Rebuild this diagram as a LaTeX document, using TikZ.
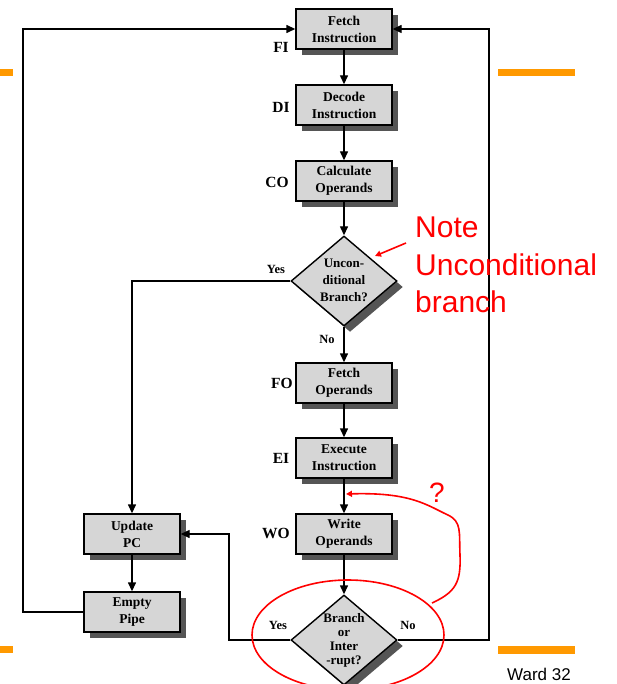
\documentclass[tikz,border=0pt]{standalone}
\usepackage{fontspec}
\setmainfont{Liberation Serif}
\newfontfamily\notefont{Liberation Sans}
\usetikzlibrary{arrows.meta,shapes.geometric,shadows}

\definecolor{boxgray}{HTML}{D6D6D6}
\definecolor{shadegray}{HTML}{555555}
\definecolor{barorange}{HTML}{FF9900}
\definecolor{notered}{HTML}{FF0000}

\tikzset{
  stepbox/.style={draw=black, line width=1.4pt, fill=boxgray,
    minimum width=96pt, minimum height=40pt, inner sep=0pt, align=center,
    font=\bfseries\fontsize{13.5}{17}\selectfont,
    general shadow={fill=shadegray, shadow xshift=6pt, shadow yshift=-6pt}},
  decision/.style={diamond, draw=black, line width=1.4pt, fill=boxgray,
    minimum width=106pt, minimum height=90pt, inner sep=0pt,
    general shadow={fill=shadegray, shadow xshift=6pt, shadow yshift=-6pt}},
  dtext/.style={align=center, inner sep=0pt, font=\bfseries\fontsize{13}{17}\selectfont},
  stagelabel/.style={font=\bfseries\fontsize{15.5}{15.5}\selectfont, inner sep=0pt},
  answer/.style={font=\bfseries\fontsize{12.5}{12.5}\selectfont, inner sep=0pt},
  flow/.style={line width=1.4pt, -{Triangle[length=9pt,width=8pt]}},
  redline/.style={draw=notered, line width=1.6pt},
  redarrow/.style={redline, -{Triangle[length=6pt,width=6pt]}},
  bar/.style={fill=barorange, draw=none}
}

\begin{document}
\begin{tikzpicture}[x=1pt,y=-1pt]
\useasboundingbox (0,0) rectangle (617,684);
\fill[white] (0,0) rectangle (617,684);

% slide accent bars
\fill[bar] (0,69) rectangle (13,76);
\fill[bar] (498,69) rectangle (575,76);
\fill[bar] (0,646) rectangle (13,653);
\fill[bar] (498,646) rectangle (575,654);

% pipeline stages
\node[stepbox] (fi) at (344,29) {Fetch\\Instruction};
\node[stepbox] (di) at (344,105) {Decode\\Instruction};
\node[stepbox] (co) at (344,181) {Calculate\\Operands};
\node[decision] (d1) at (344,281) {};
\node[dtext] (d1t) at (344,280) {Uncon-\\ditional\\Branch?};
\node[stepbox] (fo) at (344,383) {Fetch\\Operands};
\node[stepbox] (ei) at (344,458) {Execute\\Instruction};
\node[stepbox] (wo) at (344,534) {Write\\Operands};
\node[decision] (d2) at (344,640) {};
\node[dtext, font=\bfseries\fontsize{13}{14}\selectfont] (d2t) at (344,640) {Branch\\or\\Inter\\-rupt?};
\node[stepbox] (upc) at (132,534) {Update\\PC};
\node[stepbox] (ep) at (132,612) {Empty\\Pipe};

% stage abbreviations
\node[stagelabel] (lfi) at (281,47) {FI};
\node[stagelabel] (ldi) at (281,107) {DI};
\node[stagelabel] (lco) at (277,182) {CO};
\node[stagelabel] (lfo) at (282,383) {FO};
\node[stagelabel] (lei) at (281,458) {EI};
\node[stagelabel] (lwo) at (276,533) {WO};

% decision outcomes
\node[answer] (y1) at (276,269) {Yes};
\node[answer] (n1) at (327,339) {No};
\node[answer] (y2) at (278,625) {Yes};
\node[answer] (n2) at (408,625) {No};

% corner points of the return paths
\coordinate (lft) at (23,612);
\coordinate (mid) at (229,640);
\coordinate (rgt) at (489,640);

% main flow
\draw[flow] (fi) -- (di);
\draw[flow] (di) -- (co);
\draw[flow] (co) -- (d1.north);
\draw[flow] (d1.south) -- (fo);
\draw[flow] (fo) -- (ei);
\draw[flow] (ei) -- (wo);
\draw[flow] (wo) -- (d2.north);
\draw[flow] (d1.west) -| (upc.north);
\draw[flow] (upc) -- (ep);
\draw[flow] (ep.west) -- (lft) |- (fi.west);
\draw[flow] (d2.west) -- (mid) |- (upc.east);
\draw[flow] (d2.east) -- (rgt) |- (fi.east);

% red annotations (base anchor sits on the last line)
\node[font=\notefont\fontsize{30}{37}\selectfont, text=notered, align=left,
      anchor=base west, inner sep=0pt] (note) at (415,312)
      {Note\\Unconditional\\branch};
\coordinate (notetail) at (406,243);
\coordinate (notetip) at (375,256);
\draw[redarrow] (notetail) -- (notetip);

\draw[redline] (348,635) ellipse [x radius=96, y radius=55];
\coordinate (loopstart) at (432,603);
\coordinate (looptip) at (346,494);
\draw[redarrow] (loopstart) .. controls (456,592) and (461,582) .. (460,555)
  .. controls (459,532) and (462,522) .. (448,515)
  .. controls (428,506) and (412,492) .. (looptip);
\node[font=\notefont\fontsize{28}{28}\selectfont, text=notered, inner sep=0pt]
  (qm) at (437,493) {?};

% slide footer
\node[font=\notefont\fontsize{17}{17}\selectfont, anchor=base west, inner sep=0pt]
  (footer) at (507,680) {Ward 32};
\end{tikzpicture}
\end{document}
